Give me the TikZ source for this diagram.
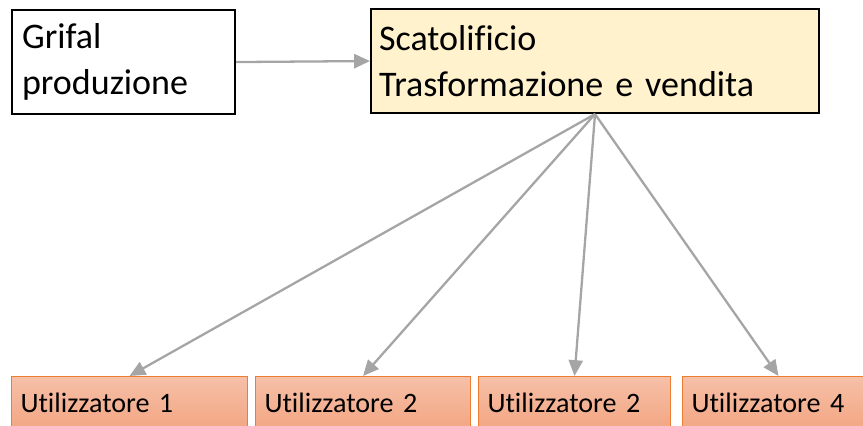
\documentclass[tikz,border=0pt]{standalone}
\usepackage{fontspec}
\setmainfont{Carlito}[Ligatures=NoCommon]
\usetikzlibrary{arrows.meta}

\definecolor{boxgiallo}{RGB}{255,242,204}
\definecolor{bordoarancio}{RGB}{237,125,49}
\definecolor{salmonealto}{RGB}{246,192,168}
\definecolor{salmonebasso}{RGB}{243,166,131}
\definecolor{freccia}{RGB}{165,165,165}

\begin{document}
\begin{tikzpicture}[x=0.02cm, y=-0.02cm,
	grande/.style={draw=black, line width=1.2pt, anchor=north west, inner sep=0pt,
		align=left, font=\fontsize{20.5}{26}\selectfont, minimum height=2.08cm},
	utente/.style={draw=bordoarancio, line width=0.6pt, anchor=north west, inner sep=0pt,
		top color=salmonealto, bottom color=salmonebasso, align=left,
		font=\fontsize{16}{19}\selectfont, minimum height=1.04cm},
	freccia/.style={draw=freccia, line width=1.3pt, -{Triangle[length=9pt, width=8pt]}}]
\useasboundingbox (0, 0) rectangle (863, 426);

\node[grande, minimum width=4.46cm, text width=4.46cm] (grifal) at (11, 9)
	{\hspace*{0.2cm}Grifal\\\hspace*{0.2cm}produzione};
\node[grande, fill=boxgiallo, minimum width=8.96cm, text width=8.96cm] (scat) at (370, 8)
	{\hspace*{0.16cm}Scatolificio\\\hspace*{0.16cm}Trasformazione e vendita};

\node[utente, minimum width=4.72cm, text width=4.72cm] (u1) at (11, 376)
	{\hspace*{0.18cm}Utilizzatore 1};
\node[utente, minimum width=4.30cm, text width=4.30cm] (u2) at (255, 376)
	{\hspace*{0.18cm}Utilizzatore 2};
\node[utente, minimum width=3.84cm, text width=3.84cm] (u3) at (478, 376)
	{\hspace*{0.18cm}Utilizzatore 2};
\node[utente, minimum width=3.84cm, text width=3.84cm] (u4) at (682, 376)
	{\hspace*{0.18cm}Utilizzatore 4};

\draw[freccia] (grifal.east) -- (scat.west);

\foreach \u in {u1, u2, u3, u4} {
	\draw[freccia] (scat.south) -- (\u.north);
}
\end{tikzpicture}
\end{document}
